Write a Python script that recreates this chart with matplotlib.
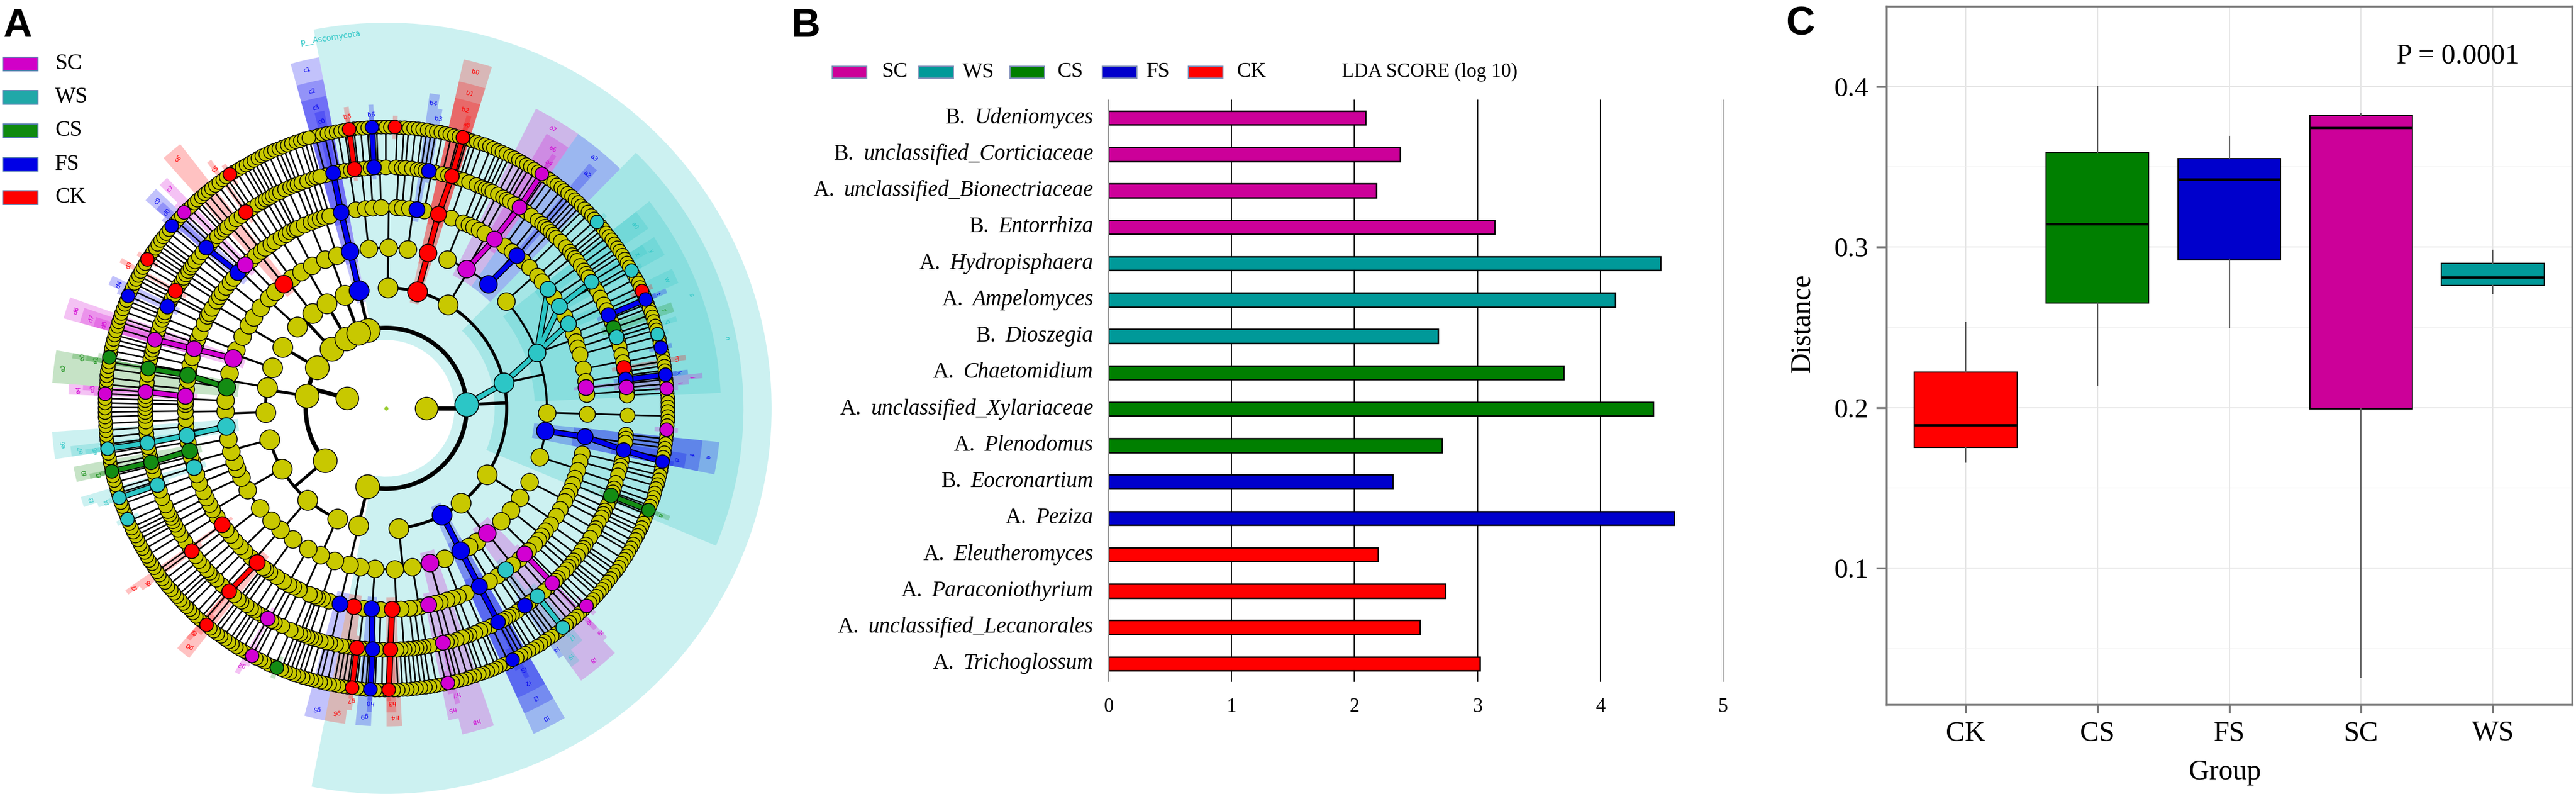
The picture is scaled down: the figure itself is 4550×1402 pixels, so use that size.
import numpy as np
import matplotlib
matplotlib.use("Agg")
import matplotlib.pyplot as plt
from matplotlib.patches import Wedge, Rectangle
from matplotlib.collections import LineCollection

plt.rcParams["font.family"] = ["Liberation Serif", "DejaVu Serif"]

W, H = 4550, 1402

# ---------------- data ----------------
groups = ["SC", "WS", "CS", "FS", "CK"]
bar_color = {"SC": "#cc0099", "WS": "#009999", "CS": "#007f00", "FS": "#0000cc", "CK": "#ff0000"}
clade_color = {"SC": "#d200d2", "WS": "#2cc6c6", "CS": "#138c13", "FS": "#0000f0", "CK": "#ff0000"}
legend_a_color = {"SC": "#d100c8", "WS": "#20a8a8", "CS": "#0f8a0f", "FS": "#0000e6", "CK": "#ff0000"}

# panel B: LDA scores
lda_rank = ["B.", "B.", "A.", "B.", "A.", "A.", "B.", "A.",
            "A.", "A.", "B.", "A.", "A.", "A.", "A.", "A."]
lda_taxa = ["Udeniomyces", "unclassified_Corticiaceae", "unclassified_Bionectriaceae",
            "Entorrhiza", "Hydropisphaera", "Ampelomyces", "Dioszegia", "Chaetomidium",
            "unclassified_Xylariaceae", "Plenodomus", "Eocronartium", "Peziza",
            "Eleutheromyces", "Paraconiothyrium", "unclassified_Lecanorales", "Trichoglossum"]
lda_group = ["SC", "SC", "SC", "SC", "WS", "WS", "WS", "CS",
             "CS", "CS", "FS", "FS", "CK", "CK", "CK", "CK"]
lda_score = [2.09, 2.37, 2.18, 3.14, 4.49, 4.12, 2.68, 3.70,
             4.43, 2.71, 2.31, 4.60, 2.19, 2.74, 2.53, 3.02]

# panel C: distance box plots
box_groups = ["CK", "CS", "FS", "SC", "WS"]
box_low = [0.166, 0.214, 0.250, 0.032, 0.271]
box_q1 = [0.175, 0.265, 0.292, 0.199, 0.276]
box_med = [0.189, 0.314, 0.342, 0.374, 0.281]
box_q3 = [0.222, 0.359, 0.355, 0.382, 0.290]
box_high = [0.253, 0.400, 0.369, 0.383, 0.298]
p_text = "P = 0.0001"

# panel A: cladogram (clockwise). Each class string: orders split by '|',
# families split by ',', each digit = number of species in one genus.
phylum_top = ["221"]
ascomycota = ["211,12,1|113,21|1,21,11,12",
              "2111",
              "112,21,1,11|2,11,1211|12,2,11,111",
              "12,21,11|121,11,211,3,12,111,2,11,12,221,111,1,111|9|1113|21,12,2,111,1",
              "21,1,12,11|3,111|2,11,1",
              "12,11,1|21,3,11|1,12|11",
              "1113",
              "11,21,1|12,1,11|2,21,1,11|111,12|21,111,11|1111"]
phylum_bottom = ["211"]
basidio_like = ["21,11,1,1|12,3|1,11,2", "111,2,1,1|21,12|2,11",
                "12,1,21,1|31,2,11|11,12|2", "21|11,2,1|12,11"]
phylum_l2 = ["11,21|2,111,1|1,11", "12,2,1|1,21,11", "21,1|2,11"]
phylum_l3 = ["121,1,1|12,11|1,11"]
phylum_l4 = ["11,2,1|21,1|2,11", "12,1|2,11"]
phylum_l5 = ["1,21,1|11,1,1"]
phylum_l6 = ["21,11,1|2,1,11"]
kingdoms = [[phylum_top, ascomycota, phylum_bottom],
            [basidio_like, phylum_l2, phylum_l3, phylum_l4, phylum_l5, phylum_l6]]

# biomarkers: (level, angle in degrees, group)
biomarkers = [
    (3, 102, "FS"), (4, 102, "FS"), (5, 102, "FS"), (6, 103, "FS"),
    (6, 98, "CK"), (7, 98, "CK"), (6, 93, "FS"), (7, 93, "FS"), (7, 88, "CK"),
    (5, 81, "FS"), (6, 80, "FS"),
    (3, 74, "CK"), (4, 74, "CK"), (5, 74, "CK"), (6, 74, "CK"), (7, 74, "CK"),
    (4, 59, "SC"), (5, 58, "SC"), (6, 57, "SC"), (7, 56, "SC"), (4, 50, "FS"), (5, 50, "FS"),
    (3, 11, "WS"), (4, 20, "WS"), (5, 30, "WS"), (5, 24, "WS"), (6, 31, "WS"), (7, 29, "WS"),
    (6, 17, "WS"), (7, 41, "WS"), (7, 15, "WS"), (5, 36, "WS"),
    (6, 23, "FS"), (7, 23, "FS"), (7, 12, "FS"), (7, 25, "CK"), (6, 10, "CK"), (6, 20, "CS"),
    (5, 5, "SC"), (6, 5, "SC"), (7, 4, "SC"), (6, 7, "FS"), (7, 7, "FS"),
    (4, -9, "FS"), (5, -9, "FS"), (6, -10, "FS"), (7, -11, "FS"),
    (7, -4, "SC"), (6, -21, "CS"), (7, -21, "CS"),
    (4, -48, "SC"), (5, -46, "SC"), (6, -47, "SC"), (7, -45, "SC"),
    (5, -53, "WS"), (6, -51, "WS"), (7, -51, "WS"), (6, -55, "FS"),
    (3, -63, "FS"), (4, -63, "FS"), (5, -63, "FS"), (6, -62, "FS"), (7, -63, "FS"),
    (4, -76, "SC"), (5, -77, "SC"), (6, -77, "SC"), (7, -77, "SC"),
    (5, -89, "CK"), (6, -89, "CK"), (7, -89, "CK"),
    (5, -93, "FS"), (6, -93, "FS"), (7, -93, "FS"),
    (5, -98, "CK"), (6, -97, "CK"), (7, -97, "CK"), (5, -103, "FS"),
    (6, -120, "SC"), (7, -118, "SC"), (7, -113, "CS"),
    (5, -129, "CK"), (6, -130, "CK"), (7, -130, "CK"),
    (5, -145, "CK"), (6, -144, "CK"),
    (4, 185, "WS"), (5, 188, "WS"), (6, 188, "WS"), (7, 188, "WS"),
    (5, 198, "WS"), (6, 199, "WS"), (7, 199, "WS"), (7, 203, "WS"),
    (5, 192, "CS"), (6, 193, "CS"), (7, 193, "CS"),
    (4, 174, "CS"), (5, 171, "CS"), (6, 171, "CS"), (7, 170, "CS"),
    (4, 162, "SC"), (5, 163, "SC"), (6, 163, "SC"),
    (5, 176, "SC"), (6, 176, "SC"), (7, 177, "SC"),
    (7, 156, "FS"), (6, 155, "FS"), (6, 151, "CK"),
    (7, 136, "SC"), (5, 134, "SC"), (6, 138, "FS"), (5, 138, "FS"), (7, 140, "FS"),
    (4, 128, "CK"), (6, 126, "CK"), (7, 124, "CK"), (7, 148, "CK"),
]
named_clades = [(2, 0, "WS", "p__Ascomycota")]

# ---------------- figure ----------------
fig = plt.figure(figsize=(W / 100, H / 100), dpi=100)


def add_axes_px(left, top, right, bottom):
    return fig.add_axes([left / W, 1 - bottom / H, (right - left) / W, (bottom - top) / H])


def pol(r, a):
    r = np.atleast_1d(np.asarray(r, float))
    t = np.radians(np.atleast_1d(np.asarray(a, float)))
    return np.column_stack([r * np.cos(t), r * np.sin(t)])


# ---- panel A ----
axA = add_axes_px(0, 0, 1400, 1402)
cx, cy, R = 682, 721, 497
axA.set_xlim(-cx / R, (1400 - cx) / R)
axA.set_ylim(-(1402 - cy) / R, cy / R)
axA.axis("off")

depth = 7
parent_lists = [[-1]] + [[] for _ in range(depth)]


def add_node(level, parent):
    parent_lists[level].append(parent)
    return len(parent_lists[level]) - 1


for kingdom in kingdoms:
    n1 = add_node(1, 0)
    for phylum in kingdom:
        n2 = add_node(2, n1)
        for cls in phylum:
            n3 = add_node(3, n2)
            for order in cls.split("|"):
                n4 = add_node(4, n3)
                for fam in order.split(","):
                    n5 = add_node(5, n4)
                    for n_sp in fam:
                        n6 = add_node(6, n5)
                        for _ in range(int(n_sp)):
                            add_node(7, n6)
parents = [np.array(p) for p in parent_lists]

n_leaf = len(parents[depth])
step = 360.0 / n_leaf
start = 105.5

ang = [None] * (depth + 1)
lo = [None] * (depth + 1)
hi = [None] * (depth + 1)
ang[depth] = start - (np.arange(n_leaf) + 0.5) * step
lo[depth] = np.arange(n_leaf)
hi[depth] = np.arange(n_leaf)
for k in range(depth - 1, -1, -1):
    n = len(parents[k])
    amin = np.full(n, np.inf)
    amax = np.full(n, -np.inf)
    np.minimum.at(amin, parents[k + 1], ang[k + 1])
    np.maximum.at(amax, parents[k + 1], ang[k + 1])
    ang[k] = (amin + amax) / 2
    l_ = np.full(n, n_leaf)
    h_ = np.full(n, -1)
    np.minimum.at(l_, parents[k + 1], lo[k + 1])
    np.maximum.at(h_, parents[k + 1], hi[k + 1])
    lo[k], hi[k] = l_, h_
rad = np.arange(depth + 1) / depth

marked = [dict() for _ in range(depth + 1)]
for lev, a, g in biomarkers:
    d = (ang[lev] - a + 180) % 360 - 180
    marked[lev][int(np.argmin(np.abs(d)))] = g
names = {}
for lev, a, g, name in named_clades:
    d = (ang[lev] - a + 180) % 360 - 180
    i = int(np.argmin(np.abs(d)))
    marked[lev][i] = g
    names[(lev, i)] = name

# highlight wedges and labels
wedge_out = {2: 1.37, 3: 1.27, 4: 1.19, 5: 1.13, 6: 1.08, 7: 1.04}
items = [(lev, i, g) for lev in range(depth + 1) for i, g in marked[lev].items()]
letters = list("abcdefghijklmnopqrstuvwxyz") + [p + str(d) for p in "abcdefghij" for d in range(10)]
unnamed = sorted([it for it in items if (it[0], it[1]) not in names],
                 key=lambda it: ((ang[it[0]][it[1]] + 25) % 360, it[0]))
label_of = {(it[0], it[1]): letters[j % len(letters)] for j, it in enumerate(unnamed)}
label_of.update(names)

for lev, i, g in sorted(items):
    th_hi = start - lo[lev][i] * step
    th_lo = start - (hi[lev][i] + 1) * step
    r_out = wedge_out[lev]
    r_in = rad[lev] - 0.3 / depth
    axA.add_patch(Wedge((0, 0), r_out, th_lo, th_hi, width=r_out - r_in,
                        facecolor=clade_color[g], alpha=0.24, lw=0, zorder=1))
    if (lev, i) in names:
        a_t = th_hi - 2.3
        xy = pol(r_out - 0.04, a_t)[0]
        axA.text(xy[0], xy[1], names[(lev, i)], rotation=a_t - 90, ha="center", va="center",
                 fontsize=10, color=clade_color[g], family="DejaVu Sans", zorder=6)
    else:
        a_t = (th_lo + th_hi) / 2
        xy = pol(r_out - 0.035, a_t)[0]
        axA.text(xy[0], xy[1], label_of[(lev, i)], rotation=a_t - 90, ha="center", va="center",
                 fontsize=8, color=clade_color[g], family="DejaVu Sans", zorder=6)

# branches
line_w = {2: 5.5, 3: 3.8, 4: 2.6, 5: 2.2, 6: 2.0, 7: 1.9}
for k in range(2, depth + 1):
    segs = []
    for p in range(len(parents[k - 1])):
        kids = np.where(parents[k] == p)[0]
        a_p = ang[k - 1][p]
        segs.append(pol([rad[k - 1], rad[k]], [a_p, a_p]))
        a1, a2 = ang[k][kids].min(), ang[k][kids].max()
        if a2 - a1 > 0.01:
            aa = np.linspace(a1, a2, max(2, int((a2 - a1) * 2)))
            segs.append(pol(np.full(aa.size, rad[k]), aa))
    axA.add_collection(LineCollection(segs, colors="black", linewidths=line_w[k],
                                      zorder=2, capstyle="round"))

# coloured lineages
for lev in range(2, depth + 1):
    for i, g in marked[lev].items():
        p = parents[lev][i]
        if marked[lev - 1].get(p) == g:
            xy = np.vstack([pol(rad[lev - 1], ang[lev - 1][p]), pol(rad[lev], ang[lev][i])])
            axA.plot(xy[:, 0], xy[:, 1], color="black", lw=8, solid_capstyle="butt", zorder=3)
            axA.plot(xy[:, 0], xy[:, 1], color=clade_color[g], lw=5.5,
                     solid_capstyle="butt", zorder=3.1)

# nodes
yellow = "#c8c800"
node_px = [7, 40, 42, 35, 31, 28, 26, 24]
for k in range(depth + 1):
    xy = pol(np.full(len(ang[k]), rad[k]), ang[k])
    s = (node_px[k] * 0.72) ** 2
    if k == 0:
        axA.scatter(xy[:, 0], xy[:, 1], s=s, c="#9acd32", lw=0, zorder=4)
        continue
    plain = np.array([i not in marked[k] for i in range(len(ang[k]))])
    axA.scatter(xy[plain, 0], xy[plain, 1], s=s, c=yellow, edgecolors="black",
                linewidths=1.1, zorder=4 + k * 0.01)
    idx = np.where(~plain)[0]
    if idx.size:
        axA.scatter(xy[idx, 0], xy[idx, 1], s=s, c=[clade_color[marked[k][i]] for i in idx],
                    edgecolors="black", linewidths=1.2, zorder=5 + k * 0.01)

# legend A
for i, g in enumerate(groups):
    yc = 113 + i * 59
    fig.add_artist(Rectangle((5 / W, 1 - (yc + 11.5) / H), 62 / W, 23 / H,
                             transform=fig.transFigure, facecolor=legend_a_color[g],
                             edgecolor="#5a7fb0", lw=1.5))
    fig.text(97 / W, 1 - yc / H, g, fontsize=28, va="center", ha="left")

# ---- panel B ----
axB = add_axes_px(1958, 176, 3044, 1204)
ypos = np.arange(len(lda_score))
axB.barh(ypos, lda_score, height=0.38, color=[bar_color[g] for g in lda_group],
         edgecolor="black", linewidth=1.8, zorder=3)
axB.set_xlim(0, 5)
axB.set_ylim(len(lda_score) - 0.5, -0.5)
axB.set_xticks(range(6))
axB.set_yticks([])
axB.grid(axis="x", color="black", linewidth=1.5, zorder=0)
axB.set_axisbelow(True)
for s in axB.spines.values():
    s.set_visible(False)
axB.tick_params(axis="x", length=0, pad=20, labelsize=25)

renderer = fig.canvas.get_renderer()
x_right = 1931
for i, (rank, taxon) in enumerate(zip(lda_rank, lda_taxa)):
    yd = axB.transData.transform((0, i))[1] / H
    t = fig.text(x_right / W, yd, taxon, style="italic", ha="right", va="center", fontsize=28)
    w = t.get_window_extent(renderer).width
    fig.text((x_right - w - 16) / W, yd, rank, ha="right", va="center", fontsize=28)

leg_patch_x = [1470, 1623, 1784, 1947, 2099]
leg_text_x = [1558, 1700, 1868, 2025, 2185]
for g, px, tx in zip(groups, leg_patch_x, leg_text_x):
    fig.add_artist(Rectangle((px / W, 1 - 138 / H), 61 / W, 21 / H, transform=fig.transFigure,
                             facecolor=bar_color[g], edgecolor="#8090b8", lw=1.5))
    fig.text(tx / W, 1 - 127 / H, g, fontsize=27, va="center", ha="left")
fig.text(2370 / W, 1 - 127 / H, "LDA SCORE (log 10)", fontsize=25, va="center", ha="left")

# ---- panel C ----
axC = add_axes_px(3332, 11, 4543, 1244)
stats = [dict(med=m, q1=a, q3=b, whislo=lo_, whishi=hi_, label=g)
         for g, lo_, a, m, b, hi_ in zip(box_groups, box_low, box_q1, box_med, box_q3, box_high)]
bp = axC.bxp(stats, positions=range(1, 6), widths=0.78, patch_artist=True,
             showfliers=False, showcaps=False,
             boxprops=dict(edgecolor="black", linewidth=1.5),
             medianprops=dict(color="black", linewidth=3),
             whiskerprops=dict(color="#5e5e5e", linewidth=1.6))
for patch, g in zip(bp["boxes"], box_groups):
    patch.set_facecolor(bar_color[g])
axC.set_xlim(0.4, 5.6)
axC.set_ylim(0.015, 0.450)
axC.set_yticks([0.1, 0.2, 0.3, 0.4])
axC.set_yticks([0.05, 0.15, 0.25, 0.35], minor=True)
axC.set_xticks(range(1, 6))
axC.set_xticklabels(box_groups)
axC.grid(which="major", color="#e6e6e6", linewidth=1.5)
axC.grid(which="minor", axis="y", color="#f0f0f0", linewidth=1.0)
axC.set_axisbelow(True)
for s in axC.spines.values():
    s.set_color("#7a7a7a")
    s.set_linewidth(2.5)
axC.tick_params(which="major", color="#7a7a7a", width=2.5)
axC.tick_params(which="minor", length=0)
axC.tick_params(axis="y", length=13, pad=10, labelsize=35)
axC.tick_params(axis="x", length=11, pad=9, labelsize=36)
fig.text(4341 / W, 1 - 112 / H, p_text, fontsize=36, ha="center", va="baseline")
fig.text(3184 / W, 1 - 571 / H, "Distance", fontsize=36, ha="center", va="center", rotation=90)
fig.text(3930 / W, 1 - 1364 / H, "Group", fontsize=36, ha="center", va="center")

# panel letters
for lab, x, y in [("A", 5, 65), ("B", 1397, 65), ("C", 3154, 62)]:
    fig.text(x / W, 1 - y / H, lab, fontsize=51, fontweight="bold",
             family="Liberation Sans", va="baseline", ha="left")

fig.savefig("out.png", dpi=100)
